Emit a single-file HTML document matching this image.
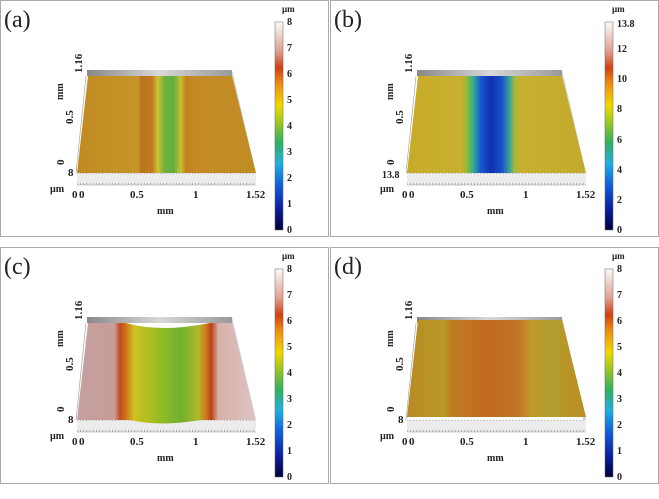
<!DOCTYPE html>
<html><head><meta charset="utf-8"><style>
html,body{margin:0;padding:0;background:#fff}
svg text{font-family:"Liberation Serif",serif;font-weight:bold;fill:#222}
</style></head><body>
<svg width="659" height="494" viewBox="0 0 659 494" xmlns="http://www.w3.org/2000/svg">
<defs>
<linearGradient id="cb" x1="0" y1="1" x2="0" y2="0">
<stop offset="0" stop-color="#00003a"/><stop offset="0.1" stop-color="#0a1ea0"/><stop offset="0.22" stop-color="#1060e0"/><stop offset="0.32" stop-color="#20b0e0"/><stop offset="0.42" stop-color="#30b060"/><stop offset="0.52" stop-color="#a0c820"/><stop offset="0.6" stop-color="#f0d800"/><stop offset="0.7" stop-color="#f09010"/><stop offset="0.78" stop-color="#d04010"/><stop offset="0.86" stop-color="#e0a090"/><stop offset="1" stop-color="#fafafa"/></linearGradient>
<linearGradient id="wall" x1="0" y1="0" x2="1" y2="0"><stop offset="0" stop-color="#888"/><stop offset="0.5" stop-color="#d8d8d8"/><stop offset="1" stop-color="#999"/></linearGradient>
<linearGradient id="ga" gradientUnits="userSpaceOnUse" x1="77" y1="0" x2="256" y2="0">
<stop offset="0" stop-color="#c08a22"/><stop offset="0.34" stop-color="#c6962a"/><stop offset="0.36" stop-color="#b87420"/><stop offset="0.42" stop-color="#c07a22"/><stop offset="0.45" stop-color="#d0c030"/><stop offset="0.49" stop-color="#70b040"/><stop offset="0.54" stop-color="#60b040"/><stop offset="0.58" stop-color="#c8c030"/><stop offset="0.61" stop-color="#c0801f"/><stop offset="0.66" stop-color="#c58a26"/><stop offset="1" stop-color="#c08c24"/></linearGradient>
<linearGradient id="gb" gradientUnits="userSpaceOnUse" x1="77" y1="0" x2="256" y2="0">
<stop offset="0" stop-color="#c8ac28"/><stop offset="0.3" stop-color="#c8b030"/><stop offset="0.33" stop-color="#a0b830"/><stop offset="0.37" stop-color="#30b090"/><stop offset="0.41" stop-color="#1a5ad0"/><stop offset="0.47" stop-color="#1030b0"/><stop offset="0.53" stop-color="#1a50c8"/><stop offset="0.57" stop-color="#30a0a0"/><stop offset="0.6" stop-color="#a0b840"/><stop offset="0.63" stop-color="#c8b030"/><stop offset="1" stop-color="#c4aa2c"/></linearGradient>
<linearGradient id="gc" gradientUnits="userSpaceOnUse" x1="77" y1="0" x2="256" y2="0">
<stop offset="0" stop-color="#c4a0a0"/><stop offset="0.21" stop-color="#c89c98"/><stop offset="0.24" stop-color="#c04a20"/><stop offset="0.27" stop-color="#d07018"/><stop offset="0.32" stop-color="#d0c020"/><stop offset="0.47" stop-color="#90bc24"/><stop offset="0.58" stop-color="#70b030"/><stop offset="0.68" stop-color="#b0b828"/><stop offset="0.72" stop-color="#d07a20"/><stop offset="0.75" stop-color="#b84018"/><stop offset="0.79" stop-color="#d8b0a8"/><stop offset="1" stop-color="#dcc4c4"/></linearGradient>
<linearGradient id="gd" gradientUnits="userSpaceOnUse" x1="77" y1="0" x2="256" y2="0">
<stop offset="0" stop-color="#b88a24"/><stop offset="0.2" stop-color="#b89a28"/><stop offset="0.26" stop-color="#c07a22"/><stop offset="0.45" stop-color="#c26a22"/><stop offset="0.62" stop-color="#c27424"/><stop offset="0.7" stop-color="#c09a2a"/><stop offset="0.8" stop-color="#b0a030"/><stop offset="0.88" stop-color="#b89628"/><stop offset="1" stop-color="#b88e26"/></linearGradient>
<pattern id="tk" width="3.2" height="12" patternUnits="userSpaceOnUse"><rect width="3.2" height="12" fill="#ececec"/><rect x="0" y="3" width="0.6" height="3" fill="#888"/></pattern>
<g id="frame">
<rect x="0.5" y="0.5" width="328" height="236" fill="#fff" stroke="#aaa"/>
<polygon points="87,70 232,70 232,76 87,76" fill="url(#wall)"/>
<polygon points="232,70 256,173 256,185 232,76" fill="#d0d0d0"/>
<polygon points="77,173 256,173 256,185 77,185" fill="url(#tk)"/>
<line x1="77" y1="185" x2="256" y2="185" stroke="#999" stroke-width="0.6"/>
<line x1="86" y1="76" x2="76" y2="173" stroke="#999" stroke-width="0.6"/>
<text x="72" y="198" font-size="11">0</text>
<text x="79" y="198" font-size="11">0</text>
<text x="130" y="198" font-size="11">0.5</text>
<text x="193" y="198" font-size="11">1</text>
<text x="246" y="198" font-size="11">1.52</text>
<text x="157" y="214" font-size="10">mm</text>
<text x="50" y="192" font-size="10">µm</text>
<text transform="translate(82,73) rotate(-90)" font-size="11">1.16</text>
<text transform="translate(63,100) rotate(-90)" font-size="10">mm</text>
<text transform="translate(73,124) rotate(-90)" font-size="11">0.5</text>
<text transform="translate(64,165) rotate(-90)" font-size="11">0</text>
<rect x="275" y="22" width="8" height="208" fill="url(#cb)" stroke="#666" stroke-width="0.5"/>
<text x="282" y="12" font-size="9">µm</text>
</g>
<g id="t8" font-size="10">
<text x="287" y="233">0</text><text x="287" y="207">1</text><text x="287" y="181">2</text><text x="287" y="155">3</text><text x="287" y="129">4</text><text x="287" y="103">5</text><text x="287" y="77">6</text><text x="287" y="51">7</text><text x="287" y="25">8</text>
</g>
</defs>

<g>
<use href="#frame"/><use href="#t8"/>
<polygon points="88,76 232,76 256,173 77,173" fill="url(#ga)"/>
<text x="68" y="176" font-size="11">8</text>
<text x="4" y="27" font-size="24" style="font-weight:normal">(a)</text>
</g>
<g transform="translate(330,0)">
<use href="#frame"/>
<polygon points="88,76 232,76 256,173 77,173" fill="url(#gb)"/>
<text x="52" y="178" font-size="10">13.8</text>
<g font-size="10"><text x="287" y="233">0</text><text x="287" y="203">2</text><text x="287" y="173">4</text><text x="287" y="143">6</text><text x="287" y="112">8</text><text x="287" y="82">10</text><text x="287" y="52">12</text><text x="287" y="27">13.8</text></g>
<text x="4" y="27" font-size="24" style="font-weight:normal">(b)</text>
</g>
<g transform="translate(0,247)">
<use href="#frame"/><use href="#t8"/>
<path d="M88,76 L126,76 Q160,86 210,76 L232,76 L256,173 L200,173 Q160,180 130,173 L77,173 Z" fill="url(#gc)"/>
<text x="68" y="176" font-size="11">8</text>
<text x="4" y="27" font-size="24" style="font-weight:normal">(c)</text>
</g>
<g transform="translate(330,247)">
<use href="#frame"/><use href="#t8"/>
<polygon points="88,73 232,73 256,170 77,170" fill="url(#gd)"/>
<text x="68" y="176" font-size="11">8</text>
<text x="4" y="27" font-size="24" style="font-weight:normal">(d)</text>
</g>
</svg>
</body></html>
